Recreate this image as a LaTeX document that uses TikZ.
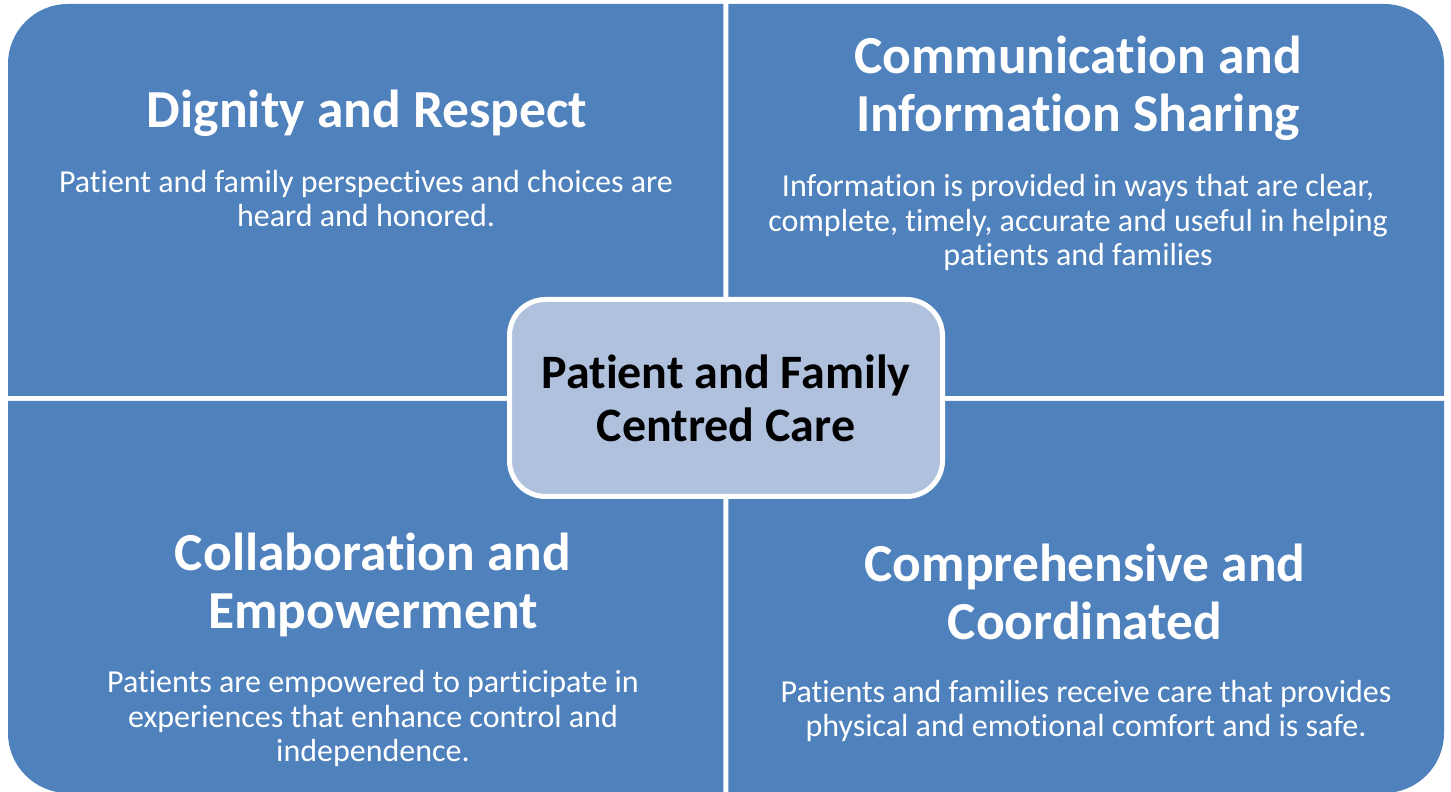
\documentclass[tikz,border=0pt]{standalone}
\usepackage{fontspec}
\setmainfont{Carlito}[Ligatures=NoCommon]
\definecolor{quadblue}{HTML}{4F81BD}
\definecolor{centerfill}{HTML}{B0C1DE}
\begin{document}
\begin{tikzpicture}[x=1pt,y=1pt,
  quad/.style={fill=quadblue},
  ttl/.style={text=white, font=\fontsize{53.5}{58}\selectfont\bfseries, align=center, anchor=base, inner sep=0pt},
  bodytext/.style={text=white, font=\fontsize{32}{34.5}\selectfont, align=center, anchor=base, inner sep=0pt},
  hub/.style={draw=white, line width=5pt, fill=centerfill, rounded corners=36pt,
    minimum width=433pt, minimum height=197pt, inner sep=0pt},
  hublabel/.style={text=black, font=\fontsize{48}{53}\selectfont\bfseries, align=center, anchor=base, inner sep=0pt}]
\useasboundingbox (0,0) rectangle (1451,792);
% quadrants
\fill[quad] (8,396) -- (8,728) arc[start angle=180, end angle=90, radius=60] -- (723.3,788) -- (723.3,396) -- cycle;
\fill[quad] (728.3,396) -- (728.3,788) -- (1384,788) arc[start angle=90, end angle=0, radius=60] -- (1444,396) -- cycle;
\fill[quad] (723.3,391) -- (723.3,-1) -- (68,-1) arc[start angle=270, end angle=180, radius=60] -- (8,391) -- cycle;
\fill[quad] (728.3,391) -- (1444,391) -- (1444,59) arc[start angle=0, end angle=-90, radius=60] -- (728.3,-1) -- cycle;
% texts (anchor = baseline of the last line)
\node[ttl] (t1) at (367,664) {Dignity and Respect};
\node[bodytext] (b1) at (366,565) {Patient and family perspectives and choices are\\heard and honored.};
\node[ttl] (t2) at (1078,660) {Communication and\\Information Sharing};
\node[bodytext] (b2) at (1078,526) {Information is provided in ways that are clear,\\complete, timely, accurate and useful in helping\\patients and families};
\node[ttl] (t3) at (373,163) {Collaboration and\\Empowerment};
\node[bodytext] (b3) at (373,30) {Patients are empowered to participate in\\experiences that enhance control and\\independence.};
\node[ttl] (t4) at (1085,152) {Comprehensive and\\Coordinated};
\node[bodytext] (b4) at (1086,55) {Patients and families receive care that provides\\physical and emotional comfort and is safe.};
% center
\node[hub] (hub) at (726,394) {};
\node[hublabel] (hubtext) at (726,350.5) {Patient and Family\\Centred Care};
\end{tikzpicture}
\end{document}
